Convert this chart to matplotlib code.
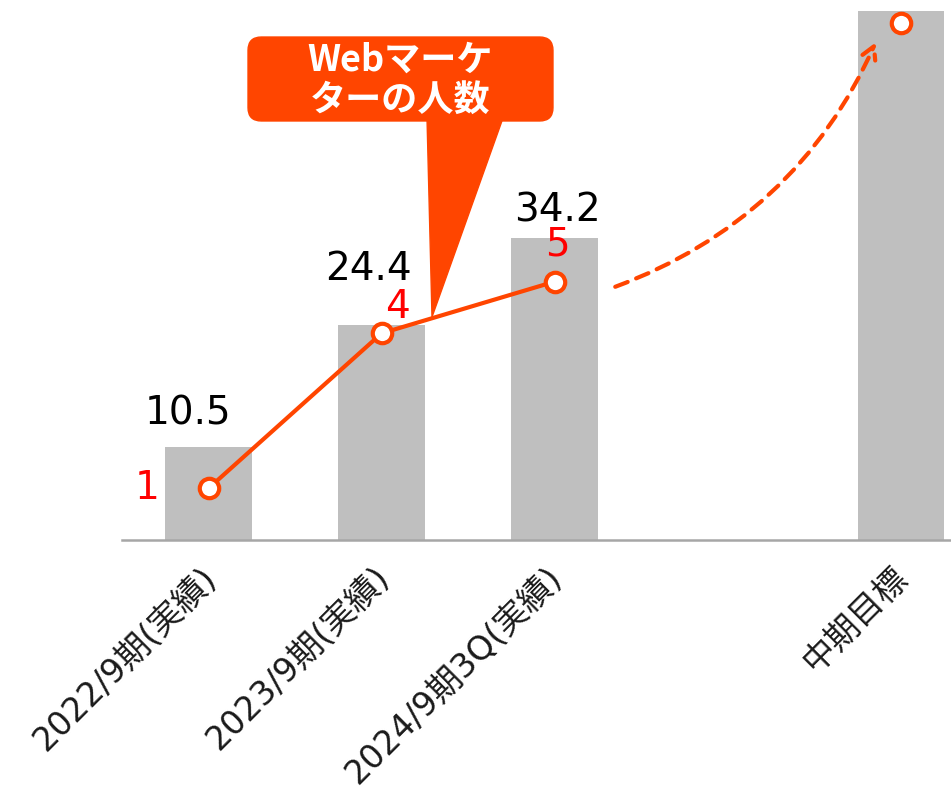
import matplotlib
matplotlib.use("Agg")
import matplotlib.pyplot as plt
from matplotlib.patches import FancyBboxPatch, Polygon
from matplotlib.transforms import ScaledTranslation

plt.rcParams['font.family'] = ['DejaVu Sans', 'Noto Sans CJK JP']

# ---- data ----
categories = ["2022/9期(実績)", "2023/9期(実績)", "2024/9期3Q(実績)", "", "中期目標"]
bar_values = [10.5, 24.4, 34.2, None, 60.0]
bar_labels = ["10.5", "24.4", "34.2", None, None]
marketers = [1, 4, 5]          # actual Web marketers (first three periods)
marketer_target = 10           # mid-term target
callout_text = "Webマーケ\nターの人数"

ORANGE = "#FF4500"
RED = "#FF0000"
GRAY = "#BFBFBF"

W, H = 951, 805
fig = plt.figure(figsize=(W / 100, H / 100), dpi=100)

def fx(px):
    return px / W

def fy(py):
    return 1 - py / H

ax = fig.add_axes([fx(122), fy(540), 1 - fx(122), 540 / H])
ax2 = ax.twinx()

xs = list(range(len(categories)))
bx = [x for x, v in zip(xs, bar_values) if v is not None]
bv = [v for v in bar_values if v is not None]
ax.bar(bx, bv, width=0.5, color=GRAY, zorder=1)

ax.set_xlim(-0.5, 4.29)
ax.set_ylim(0, 61.2)
ax2.set_ylim(0, 10.45)

for a in (ax, ax2):
    for s in ("top", "right", "left"):
        a.spines[s].set_visible(False)
    a.set_yticks([])
ax2.spines["bottom"].set_visible(False)
ax.spines["bottom"].set_color("#A6A6A6")
ax.spines["bottom"].set_linewidth(1.8)
ax.tick_params(axis="x", length=0, pad=15)

ax.set_xticks(xs)
ax.set_xticklabels(categories, fontsize=24, rotation=45, ha="right",
                   va="top", rotation_mode="anchor", color="#1a1a1a")
off = ScaledTranslation(-9 / 100, 0, fig.dpi_scale_trans)
for lbl in ax.get_xticklabels():
    lbl.set_transform(lbl.get_transform() + off)

# value labels for bars
val_offsets = [(-21, 15), (-13, 37), (3, 9)]
for x, v, lab, (dx, dy) in zip(xs, bar_values, bar_labels, val_offsets):
    if lab is None:
        continue
    ax.annotate(lab, (x, v), xytext=(dx, dy), textcoords="offset pixels",
                ha="center", va="bottom", fontsize=28, color="black")

# line of marketers
lx = xs[:len(marketers)]
ax2.plot(lx, marketers, color=ORANGE, lw=3, zorder=3,
         marker="o", markersize=14, markerfacecolor="white",
         markeredgecolor=ORANGE, markeredgewidth=3)
ax2.plot([xs[4]], [marketer_target], linestyle="none", marker="o",
         markersize=14, markerfacecolor="white", markeredgecolor=ORANGE,
         markeredgewidth=3, zorder=3)

num_offsets = [(-61, 0), (16, 26), (3, 37)]
for x, v, (dx, dy) in zip(lx, marketers, num_offsets):
    ax2.annotate(str(v), (x, v), xytext=(dx, dy), textcoords="offset pixels",
                 ha="center", va="center", fontsize=28, color=RED)

# dashed growth arrow
ax2.annotate("", xy=(3.855, 9.63), xytext=(2.35, 4.9),
             arrowprops=dict(arrowstyle="->,head_length=0.9,head_width=0.5",
                             color=ORANGE, lw=3, linestyle=(0, (3.2, 2.2)),
                             capstyle="round",
                             connectionstyle="arc3,rad=0.21",
                             shrinkA=0, shrinkB=0), zorder=4)

# callout
tail = Polygon([(fx(427), fy(118)), (fx(503), fy(118)), (fx(432), fy(317))],
               closed=True, transform=fig.transFigure, color=ORANGE, zorder=5)
fig.add_artist(tail)
box = FancyBboxPatch((fx(260), fy(109)), fx(553 - 260 - 12), (121 - 37 - 24) / H,
                     boxstyle="round,pad=0.0126,rounding_size=0.014",
                     transform=fig.transFigure, color=ORANGE, zorder=5,
                     mutation_aspect=W / H)
fig.add_artist(box)
fig.text(fx(400), fy(80), callout_text, ha="center", va="center",
         fontsize=26, fontweight="bold", color="white", linespacing=1.1,
         family=['Noto Sans CJK JP', 'DejaVu Sans'], zorder=6)

fig.savefig("out.png", dpi=100)
